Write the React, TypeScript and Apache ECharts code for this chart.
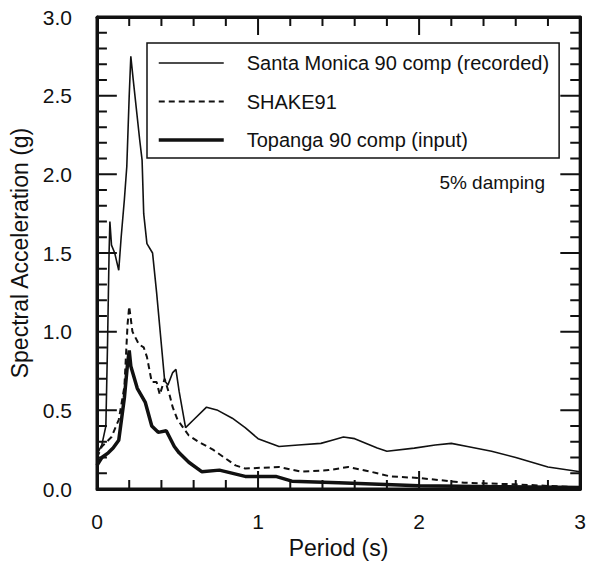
import React, { useEffect, useRef } from "react";
import * as echarts from "echarts";

// ---- Data ----
const seriesNames = [
  "Santa Monica 90 comp (recorded)",
  "SHAKE91",
  "Topanga 90 comp (input)",
];

const santaMonicaT = [0, 0.03, 0.055, 0.065, 0.075, 0.08, 0.09, 0.11, 0.135, 0.15, 0.17, 0.185, 0.2, 0.21, 0.225, 0.265, 0.28, 0.29, 0.31, 0.345, 0.37, 0.42, 0.44, 0.47, 0.49, 0.51, 0.55, 0.6, 0.68, 0.75, 0.84, 0.92, 1.0, 1.13, 1.25, 1.39, 1.46, 1.53, 1.6, 1.74, 1.8, 1.97, 2.1, 2.2, 2.3, 2.45, 2.6, 2.8, 3.0];
const santaMonicaSa = [0.22, 0.28, 0.4, 0.9, 1.5, 1.7, 1.55, 1.5, 1.39, 1.6, 1.84, 2.05, 2.5, 2.75, 2.6, 2.22, 2.09, 1.75, 1.56, 1.5, 1.25, 0.69, 0.66, 0.74, 0.76, 0.62, 0.39, 0.44, 0.52, 0.5, 0.45, 0.39, 0.32, 0.27, 0.28, 0.29, 0.31, 0.33, 0.32, 0.26, 0.24, 0.26, 0.28, 0.29, 0.27, 0.24, 0.2, 0.14, 0.11];

const shakeT = [0, 0.03, 0.09, 0.135, 0.17, 0.19, 0.2, 0.22, 0.26, 0.29, 0.31, 0.34, 0.37, 0.39, 0.42, 0.45, 0.47, 0.5, 0.57, 0.63, 0.72, 0.86, 0.92, 1.13, 1.27, 1.44, 1.56, 1.7, 1.82, 2.0, 2.28, 2.59, 3.0];
const shakeSa = [0.2, 0.27, 0.33, 0.44, 0.65, 1.05, 1.16, 1.0, 0.92, 0.9, 0.84, 0.68, 0.68, 0.6, 0.7, 0.6, 0.52, 0.44, 0.34, 0.3, 0.25, 0.15, 0.13, 0.14, 0.11, 0.12, 0.14, 0.11, 0.08, 0.07, 0.04, 0.03, 0.01];

const topangaT = [0, 0.03, 0.07, 0.1, 0.135, 0.17, 0.19, 0.2, 0.21, 0.23, 0.25, 0.3, 0.34, 0.38, 0.43, 0.48, 0.51, 0.57, 0.65, 0.76, 0.92, 1.11, 1.21, 1.5, 1.75, 2.0, 2.5, 3.0];
const topangaSa = [0.15, 0.2, 0.23, 0.26, 0.31, 0.58, 0.8, 0.88, 0.78, 0.71, 0.64, 0.55, 0.4, 0.36, 0.37, 0.27, 0.23, 0.17, 0.11, 0.12, 0.08, 0.08, 0.05, 0.04, 0.03, 0.02, 0.015, 0.01];

// Axis ticks (major ticks carry labels)
const xTicks = [0, 1, 2, 3];
const xMinorTicks = [0.2, 0.4, 0.6, 0.8, 1.2, 1.4, 1.6, 1.8, 2.2, 2.4, 2.6, 2.8];
const yTicks = [0, 0.5, 1, 1.5, 2, 2.5, 3];
const yTickLabels = ["0.0", "0.5", "1.0", "1.5", "2.0", "2.5", "3.0"];
const yMinorTicks = [0.1, 0.2, 0.3, 0.4, 0.6, 0.7, 0.8, 0.9, 1.1, 1.2, 1.3, 1.4, 1.6, 1.7, 1.8, 1.9, 2.1, 2.2, 2.3, 2.4, 2.6, 2.7, 2.8, 2.9];
const annotation = "5% damping";

const zip = (xs: number[], ys: number[]) => xs.map((x, i) => [x, ys[i]]);

const FONT = '"Liberation Sans", Arial, sans-serif';
const INK = "#111";

// plot extent in pixels (grid) — used only to express tick lengths in axis units
const GRID = { left: 97, right: 5, top: 17, bottom: 76 };
const W = 589;
const H = 565;
const X_MAX = 3;
const Y_MAX = 3;
const pxPerX = (W - GRID.left - GRID.right) / X_MAX;
const pxPerY = (H - GRID.top - GRID.bottom) / Y_MAX;

// tick marks as short segments drawn through the axis scales ('-' breaks the line)
function xTickSegments(vals: number[], lenPx: number) {
  const d = lenPx / pxPerY;
  const out: any[] = [];
  vals.forEach((v) => {
    out.push([v, 0], [v, d], [v, "-"]);
    out.push([v, Y_MAX], [v, Y_MAX - d], [v, "-"]);
  });
  return out;
}
function yTickSegments(vals: number[], lenPx: number) {
  const d = lenPx / pxPerX;
  const out: any[] = [];
  vals.forEach((v) => {
    out.push([0, v], [d, v], [0, "-"]);
    out.push([X_MAX, v], [X_MAX - d, v], [X_MAX, "-"]);
  });
  return out;
}

function axis(isX: boolean, pos: string, main: boolean) {
  const a: any = {
    type: "value",
    position: pos,
    min: 0,
    max: isX ? X_MAX : Y_MAX,
    interval: isX ? 1 : 0.5,
    axisLine: { show: true, onZero: false, lineStyle: { color: INK, width: 3 } },
    axisTick: { show: false },
    splitLine: { show: false },
    axisLabel: main
      ? {
          color: INK,
          fontFamily: FONT,
          fontSize: 21,
          margin: isX ? 22 : 25,
          formatter: (v: number) => {
            if (isX) return String(xTicks.find((t) => Math.abs(t - v) < 1e-9) ?? v);
            const i = yTicks.findIndex((t) => Math.abs(t - v) < 1e-9);
            return i >= 0 ? yTickLabels[i] : String(v);
          },
        }
      : { show: false },
  };
  if (main) {
    a.name = isX ? "Period (s)" : "Spectral Acceleration (g)";
    a.nameLocation = "middle";
    a.nameGap = isX ? 47 : 62;
    a.nameTextStyle = { color: INK, fontFamily: FONT, fontSize: 23 };
  }
  return a;
}

const decoSeries = (data: any[], width: number) => ({
  type: "line",
  data,
  symbol: "none",
  silent: true,
  clip: false,
  connectNulls: false,
  z: 3,
  lineStyle: { color: INK, width, type: "solid", cap: "butt" },
  tooltip: { show: false },
});

export default function App() {
  const ref = useRef<HTMLDivElement>(null);

  useEffect(() => {
    if (!ref.current) return;
    const chart = echarts.init(ref.current, undefined, { renderer: "svg" });

    const option: any = {
      animation: false,
      backgroundColor: "#fff",
      grid: { ...GRID, containLabel: false },
      xAxis: [axis(true, "bottom", true), axis(true, "top", false)],
      yAxis: [axis(false, "left", true), axis(false, "right", false)],
      legend: {
        show: true,
        orient: "vertical",
        left: 147,
        top: 43,
        padding: [10, 10, 8, 10],
        borderColor: INK,
        borderWidth: 1.5,
        itemWidth: 65,
        itemHeight: 14,
        itemGap: 18.5,
        selectedMode: false,
        itemStyle: { opacity: 0 },
        lineStyle: { width: "inherit" },
        textStyle: { color: INK, fontFamily: FONT, fontSize: 20, padding: [0, 0, 0, 18] },
        data: seriesNames,
      },
      graphic: [
        {
          type: "text",
          x: 545,
          y: 182,
          style: {
            text: annotation,
            fill: INK,
            font: `19px ${FONT}`,
            textAlign: "right",
            textVerticalAlign: "middle",
          },
        },
      ],
      series: [
        {
          name: seriesNames[0],
          type: "line",
          data: zip(santaMonicaT, santaMonicaSa),
          symbol: "none",
          lineStyle: { color: INK, width: 1.6, type: "solid" },
          itemStyle: { color: INK },
        },
        {
          name: seriesNames[1],
          type: "line",
          data: zip(shakeT, shakeSa),
          symbol: "none",
          lineStyle: { color: INK, width: 2, type: [6, 4] },
          itemStyle: { color: INK },
        },
        {
          name: seriesNames[2],
          type: "line",
          data: zip(topangaT, topangaSa),
          symbol: "none",
          lineStyle: { color: INK, width: 3.5, type: "solid" },
          itemStyle: { color: INK },
        },
        // frame and inside ticks
        decoSeries([[0, 0], [X_MAX, 0], [X_MAX, Y_MAX], [0, Y_MAX], [0, 0]], 3),
        decoSeries(xTickSegments(xTicks, 18), 2),
        decoSeries(xTickSegments(xMinorTicks, 9), 2),
        decoSeries(yTickSegments(yTicks, 20), 2),
        decoSeries(yTickSegments(yMinorTicks, 10), 2),
      ],
    };

    chart.setOption(option);
    return () => chart.dispose();
  }, []);

  return (
    <div style={{ position: "fixed", left: 0, top: 0, width: W, height: H, background: "#fff" }}>
      <div ref={ref} style={{ width: W, height: H }} />
    </div>
  );
}
